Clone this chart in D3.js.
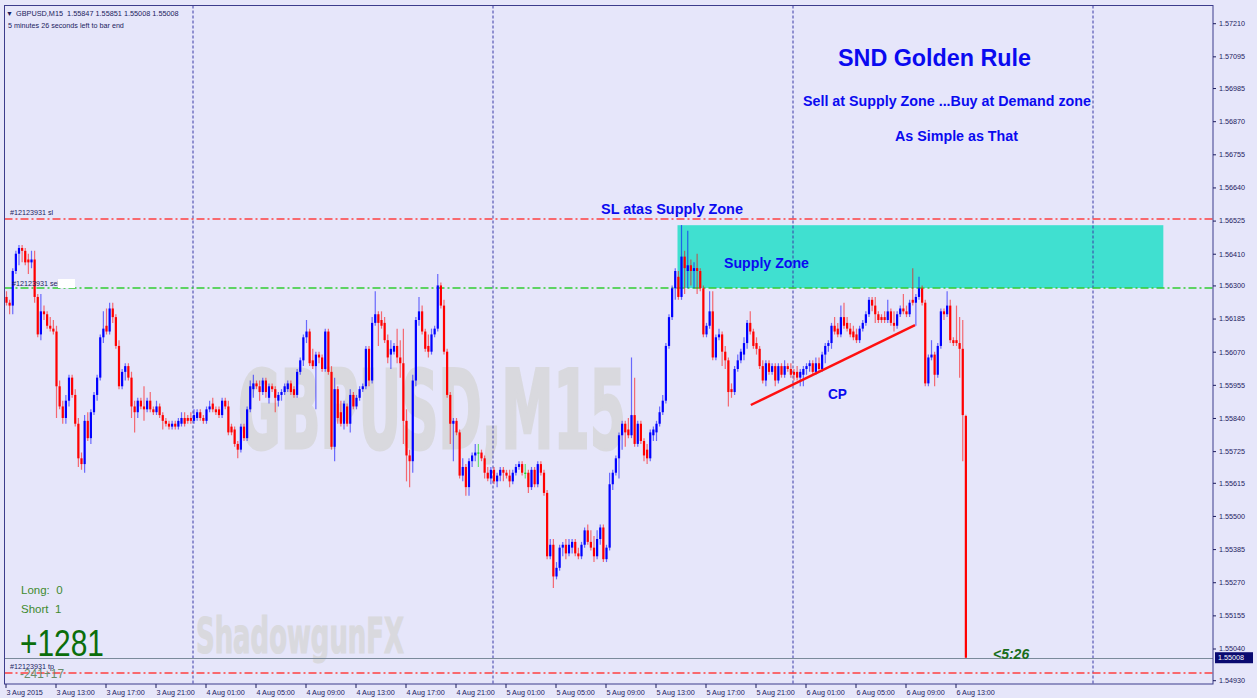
<!DOCTYPE html>
<html><head><meta charset="utf-8">
<script src="https://cdn.jsdelivr.net/npm/d3@7"></script>
<style>html,body{margin:0;padding:0;background:#e6e6fa;overflow:hidden}</style>
</head><body><svg id="c" width="1257" height="698"></svg>
<script>
// ---------------- DATA ----------------
const symbol = "GBPUSD,M15";
const firstBarTime = "2015-08-03 09:00";   // M15 bars
const barMinutes = 15;
// one [open, high, low, close] per 15-minute bar
const ohlc = [
[1.5626,1.5628,1.5623,1.5624],[1.5624,1.5625,1.5620,1.5623],[1.5623,1.5636,1.5620,1.5635],[1.5635,1.5642,1.5634,1.5641],
[1.5641,1.5644,1.5637,1.5643],[1.5643,1.5644,1.5638,1.5642],[1.5642,1.5643,1.5637,1.5638],[1.5639,1.5641,1.5634,1.5638],
[1.5638,1.5642,1.5636,1.5639],[1.5639,1.5642,1.5624,1.5626],[1.5626,1.5627,1.5612,1.5613],[1.5613,1.5627,1.5611,1.5621],
[1.5621,1.5623,1.5618,1.5620],[1.5620,1.5621,1.5615,1.5616],[1.5616,1.5619,1.5614,1.5615],[1.5615,1.5618,1.5613,1.5614],
[1.5614,1.5616,1.5584,1.5595],[1.5595,1.5597,1.5587,1.5588],[1.5588,1.5590,1.5582,1.5584],[1.5584,1.5592,1.5582,1.5590],
[1.5590,1.5599,1.5588,1.5598],[1.5598,1.5599,1.5591,1.5592],[1.5592,1.5594,1.5581,1.5582],[1.5582,1.5584,1.5567,1.5570],
[1.5570,1.5572,1.5566,1.5568],[1.5568,1.5585,1.5565,1.5583],[1.5583,1.5586,1.5576,1.5577],[1.5577,1.5587,1.5575,1.5586],
[1.5586,1.5593,1.5585,1.5592],[1.5592,1.5599,1.5590,1.5598],[1.5598,1.5613,1.5597,1.5612],[1.5612,1.5621,1.5610,1.5615],
[1.5616,1.5622,1.5613,1.5614],[1.5614,1.5624,1.5613,1.5622],[1.5622,1.5624,1.5617,1.5619],[1.5619,1.5620,1.5608,1.5609],
[1.5609,1.5611,1.5594,1.5595],[1.5595,1.5601,1.5594,1.5600],[1.5600,1.5603,1.5597,1.5602],[1.5602,1.5603,1.5597,1.5598],
[1.5598,1.5600,1.5584,1.5588],[1.5588,1.5590,1.5579,1.5586],[1.5586,1.5591,1.5584,1.5590],[1.5590,1.5591,1.5587,1.5588],
[1.5588,1.5595,1.5583,1.5587],[1.5587,1.5591,1.5586,1.5590],[1.5590,1.5593,1.5586,1.5587],[1.5587,1.5588,1.5585,1.5586],
[1.5586,1.5590,1.5585,1.5588],[1.5588,1.5589,1.5584,1.5585],[1.5585,1.5586,1.5580,1.5583],[1.5583,1.5584,1.5581,1.5582],
[1.5582,1.5583,1.5580,1.5581],[1.5581,1.5583,1.5580,1.5582],[1.5582,1.5583,1.5580,1.5581],[1.5581,1.5584,1.5580,1.5583],
[1.5582,1.5586,1.5581,1.5584],[1.5584,1.5586,1.5581,1.5582],[1.5584,1.5585,1.5582,1.5583],[1.5584,1.5586,1.5582,1.5583],
[1.5583,1.5587,1.5582,1.5585],[1.5584,1.5587,1.5583,1.5586],[1.5586,1.5587,1.5583,1.5584],[1.5584,1.5585,1.5582,1.5583],
[1.5583,1.5588,1.5582,1.5587],[1.5587,1.5590,1.5586,1.5588],[1.5589,1.5591,1.5586,1.5587],[1.5587,1.5588,1.5585,1.5586],
[1.5587,1.5588,1.5584,1.5585],[1.5585,1.5591,1.5584,1.5590],[1.5590,1.5591,1.5587,1.5588],[1.5588,1.5590,1.5578,1.5579],
[1.5581,1.5582,1.5578,1.5579],[1.5580,1.5581,1.5574,1.5575],[1.5575,1.5576,1.5570,1.5573],[1.5573,1.5582,1.5572,1.5581],
[1.5581,1.5582,1.5576,1.5577],[1.5577,1.5588,1.5576,1.5587],[1.5587,1.5597,1.5586,1.5595],[1.5594,1.5599,1.5591,1.5596],
[1.5596,1.5597,1.5594,1.5595],[1.5595,1.5597,1.5590,1.5593],[1.5593,1.5598,1.5592,1.5597],[1.5597,1.5598,1.5591,1.5593],
[1.5591,1.5596,1.5589,1.5595],[1.5595,1.5596,1.5593,1.5594],[1.5594,1.5595,1.5586,1.5591],[1.5590,1.5593,1.5588,1.5592],
[1.5592,1.5594,1.5590,1.5593],[1.5593,1.5596,1.5592,1.5595],[1.5594,1.5597,1.5593,1.5596],[1.5596,1.5597,1.5592,1.5593],
[1.5594,1.5595,1.5591,1.5592],[1.5592,1.5601,1.5591,1.5600],[1.5600,1.5605,1.5599,1.5604],[1.5604,1.5613,1.5602,1.5612],
[1.5612,1.5618,1.5610,1.5614],[1.5614,1.5615,1.5602,1.5603],[1.5604,1.5608,1.5601,1.5602],[1.5602,1.5607,1.5587,1.5606],
[1.5606,1.5607,1.5603,1.5605],[1.5605,1.5606,1.5600,1.5601],[1.5601,1.5615,1.5600,1.5614],[1.5614,1.5615,1.5599,1.5600],
[1.5600,1.5602,1.5573,1.5574],[1.5574,1.5598,1.5569,1.5594],[1.5594,1.5595,1.5582,1.5584],[1.5586,1.5590,1.5581,1.5582],
[1.5582,1.5590,1.5580,1.5589],[1.5588,1.5589,1.5581,1.5582],[1.5582,1.5594,1.5579,1.5592],[1.5592,1.5593,1.5587,1.5588],
[1.5588,1.5592,1.5587,1.5591],[1.5591,1.5595,1.5590,1.5594],[1.5594,1.5596,1.5593,1.5595],[1.5595,1.5609,1.5594,1.5608],
[1.5608,1.5609,1.5595,1.5597],[1.5597,1.5619,1.5596,1.5617],[1.5617,1.5628,1.5616,1.5620],[1.5620,1.5621,1.5609,1.5617],
[1.5618,1.5621,1.5615,1.5616],[1.5617,1.5619,1.5610,1.5611],[1.5611,1.5613,1.5603,1.5605],[1.5606,1.5611,1.5601,1.5608],
[1.5607,1.5610,1.5606,1.5609],[1.5609,1.5615,1.5603,1.5605],[1.5605,1.5611,1.5598,1.5603],[1.5603,1.5615,1.5575,1.5583],
[1.5583,1.5587,1.5562,1.5571],[1.5571,1.5573,1.5560,1.5569],[1.5569,1.5599,1.5565,1.5597],[1.5597,1.5619,1.5595,1.5618],
[1.5618,1.5626,1.5616,1.5621],[1.5621,1.5623,1.5613,1.5614],[1.5614,1.5615,1.5607,1.5608],[1.5609,1.5613,1.5605,1.5607],
[1.5607,1.5615,1.5606,1.5613],[1.5613,1.5616,1.5612,1.5615],[1.5615,1.5634,1.5614,1.5630],[1.5630,1.5631,1.5622,1.5623],
[1.5623,1.5625,1.5606,1.5607],[1.5607,1.5608,1.5591,1.5592],[1.5592,1.5593,1.5575,1.5582],[1.5582,1.5584,1.5569,1.5583],
[1.5583,1.5584,1.5578,1.5579],[1.5579,1.5580,1.5563,1.5564],[1.5564,1.5570,1.5562,1.5567],[1.5567,1.5568,1.5557,1.5560],
[1.5560,1.5570,1.5557,1.5569],[1.5569,1.5572,1.5567,1.5571],[1.5571,1.5575,1.5569,1.5572],[1.5572,1.5575,1.5567,1.5572],
[1.5572,1.5573,1.5569,1.5570],[1.5570,1.5571,1.5563,1.5565],[1.5565,1.5567,1.5562,1.5563],[1.5563,1.5567,1.5561,1.5566],
[1.5566,1.5567,1.5561,1.5562],[1.5562,1.5565,1.5560,1.5564],[1.5564,1.5567,1.5562,1.5566],[1.5566,1.5567,1.5562,1.5565],
[1.5565,1.5566,1.5563,1.5564],[1.5564,1.5566,1.5560,1.5562],[1.5562,1.5566,1.5561,1.5565],[1.5565,1.5568,1.5564,1.5567],
[1.5567,1.5569,1.5566,1.5568],[1.5568,1.5569,1.5564,1.5565],[1.5565,1.5568,1.5563,1.5565],[1.5565,1.5566,1.5558,1.5560],
[1.5560,1.5567,1.5559,1.5566],[1.5566,1.5567,1.5560,1.5561],[1.5561,1.5569,1.5560,1.5568],[1.5568,1.5569,1.5564,1.5565],
[1.5565,1.5566,1.5557,1.5558],[1.5558,1.5559,1.5535,1.5536],[1.5536,1.5542,1.5535,1.5540],[1.5540,1.5542,1.5525,1.5529],
[1.5529,1.5534,1.5528,1.5532],[1.5532,1.5540,1.5531,1.5539],[1.5539,1.5541,1.5536,1.5540],[1.5540,1.5542,1.5535,1.5537],
[1.5537,1.5542,1.5536,1.5540],[1.5539,1.5542,1.5537,1.5541],[1.5541,1.5542,1.5536,1.5537],[1.5537,1.5539,1.5535,1.5536],
[1.5536,1.5541,1.5535,1.5540],[1.5540,1.5546,1.5539,1.5545],[1.5545,1.5547,1.5540,1.5541],[1.5541,1.5545,1.5538,1.5539],
[1.5539,1.5543,1.5534,1.5536],[1.5536,1.5545,1.5535,1.5542],[1.5542,1.5547,1.5540,1.5546],[1.5546,1.5547,1.5534,1.5535],
[1.5535,1.5540,1.5534,1.5539],[1.5539,1.5565,1.5538,1.5561],[1.5561,1.5566,1.5559,1.5565],[1.5565,1.5571,1.5564,1.5570],
[1.5570,1.5579,1.5563,1.5578],[1.5578,1.5583,1.5573,1.5582],[1.5582,1.5583,1.5574,1.5579],[1.5580,1.5584,1.5577,1.5578],
[1.5578,1.5605,1.5577,1.5585],[1.5585,1.5598,1.5574,1.5575],[1.5575,1.5583,1.5574,1.5582],[1.5582,1.5583,1.5575,1.5576],
[1.5576,1.5577,1.5569,1.5571],[1.5573,1.5575,1.5568,1.5570],[1.5570,1.5580,1.5569,1.5579],[1.5578,1.5581,1.5576,1.5580],
[1.5579,1.5583,1.5576,1.5582],[1.5582,1.5588,1.5581,1.5586],[1.5586,1.5592,1.5585,1.5590],[1.5590,1.5610,1.5589,1.5609],
[1.5609,1.5620,1.5608,1.5619],[1.5619,1.5630,1.5618,1.5629],[1.5629,1.5636,1.5625,1.5635],[1.5633,1.5635,1.5625,1.5626],
[1.5626,1.5651,1.5625,1.5640],[1.5640,1.5642,1.5627,1.5636],[1.5635,1.5649,1.5629,1.5637],[1.5637,1.5639,1.5630,1.5635],
[1.5635,1.5638,1.5629,1.5636],[1.5636,1.5641,1.5627,1.5635],[1.5635,1.5636,1.5628,1.5629],[1.5629,1.5630,1.5612,1.5613],
[1.5613,1.5617,1.5612,1.5616],[1.5616,1.5628,1.5615,1.5621],[1.5621,1.5628,1.5604,1.5605],[1.5605,1.5613,1.5604,1.5612],
[1.5612,1.5615,1.5611,1.5613],[1.5613,1.5614,1.5602,1.5607],[1.5607,1.5609,1.5601,1.5604],[1.5604,1.5605,1.5588,1.5593],
[1.5594,1.5596,1.5591,1.5593],[1.5593,1.5602,1.5592,1.5601],[1.5601,1.5606,1.5600,1.5604],[1.5604,1.5608,1.5603,1.5607],
[1.5606,1.5612,1.5604,1.5610],[1.5610,1.5618,1.5608,1.5617],[1.5617,1.5621,1.5613,1.5614],[1.5614,1.5615,1.5608,1.5609],
[1.5610,1.5612,1.5606,1.5608],[1.5608,1.5609,1.5601,1.5602],[1.5602,1.5604,1.5596,1.5597],[1.5597,1.5604,1.5595,1.5603],
[1.5603,1.5604,1.5599,1.5600],[1.5600,1.5603,1.5599,1.5602],[1.5602,1.5603,1.5595,1.5597],[1.5597,1.5603,1.5596,1.5602],
[1.5602,1.5603,1.5598,1.5599],[1.5599,1.5604,1.5598,1.5602],[1.5602,1.5603,1.5600,1.5601],[1.5601,1.5603,1.5598,1.5599],
[1.5600,1.5601,1.5597,1.5599],[1.5600,1.5602,1.5597,1.5598],[1.5598,1.5601,1.5595,1.5600],[1.5599,1.5602,1.5595,1.5601],
[1.5601,1.5603,1.5599,1.5602],[1.5602,1.5604,1.5600,1.5603],[1.5603,1.5604,1.5599,1.5600],[1.5600,1.5605,1.5599,1.5603],
[1.5603,1.5605,1.5600,1.5601],[1.5601,1.5607,1.5600,1.5606],[1.5606,1.5610,1.5603,1.5609],[1.5609,1.5611,1.5607,1.5610],
[1.5610,1.5617,1.5608,1.5616],[1.5616,1.5619,1.5613,1.5614],[1.5615,1.5617,1.5612,1.5613],[1.5613,1.5623,1.5612,1.5619],
[1.5619,1.5624,1.5615,1.5616],[1.5617,1.5619,1.5614,1.5615],[1.5615,1.5617,1.5612,1.5613],[1.5614,1.5616,1.5611,1.5612],
[1.5613,1.5615,1.5610,1.5611],[1.5611,1.5616,1.5610,1.5615],[1.5615,1.5618,1.5614,1.5617],[1.5617,1.5621,1.5616,1.5620],
[1.5620,1.5626,1.5619,1.5625],[1.5625,1.5626,1.5621,1.5623],[1.5623,1.5626,1.5617,1.5620],[1.5620,1.5621,1.5617,1.5618],
[1.5619,1.5620,1.5617,1.5618],[1.5619,1.5621,1.5617,1.5618],[1.5618,1.5625,1.5617,1.5621],[1.5621,1.5622,1.5616,1.5617],
[1.5617,1.5621,1.5614,1.5616],[1.5616,1.5621,1.5615,1.5620],[1.5620,1.5623,1.5619,1.5622],[1.5622,1.5627,1.5620,1.5621],
[1.5621,1.5623,1.5619,1.5620],[1.5620,1.5625,1.5619,1.5624],[1.5625,1.5636,1.5623,1.5624],[1.5624,1.5627,1.5616,1.5626],
[1.5626,1.5633,1.5625,1.5629],[1.5629,1.5630,1.5623,1.5624],[1.5624,1.5625,1.5595,1.5596],[1.5596,1.5606,1.5595,1.5605],
[1.5605,1.5611,1.5604,1.5606],[1.5606,1.5607,1.5595,1.5599],[1.5599,1.5610,1.5598,1.5609],[1.5609,1.5622,1.5608,1.5621],
[1.5621,1.5622,1.5618,1.5620],[1.5620,1.5628,1.5619,1.5623],[1.5623,1.5625,1.5610,1.5611],[1.5611,1.5612,1.5609,1.5610],
[1.5611,1.5623,1.5609,1.5610],[1.5610,1.5619,1.5598,1.5608],[1.5608,1.5618,1.5569,1.5585],[1.55847,1.55851,1.55008,1.55008]
];
const priceTicks = [1.57210,1.57095,1.56985,1.56870,1.56755,1.56640,1.56525,1.56410,1.56300,1.56185,1.56070,
  1.55955,1.55840,1.55725,1.55615,1.55500,1.55385,1.55270,1.55155,1.55040,1.54930];
const timeTicks = ["2015-08-03 09:00","2015-08-03 13:00","2015-08-03 17:00","2015-08-03 21:00","2015-08-04 01:00",
  "2015-08-04 05:00","2015-08-04 09:00","2015-08-04 13:00","2015-08-04 17:00","2015-08-04 21:00","2015-08-05 01:00",
  "2015-08-05 05:00","2015-08-05 09:00","2015-08-05 13:00","2015-08-05 17:00","2015-08-05 21:00","2015-08-06 01:00",
  "2015-08-06 05:00","2015-08-06 09:00","2015-08-06 13:00"];
const timeTickLabels = ["3 Aug 2015","3 Aug 13:00","3 Aug 17:00","3 Aug 21:00","4 Aug 01:00","4 Aug 05:00","4 Aug 09:00",
  "4 Aug 13:00","4 Aug 17:00","4 Aug 21:00","5 Aug 01:00","5 Aug 05:00","5 Aug 09:00","5 Aug 13:00","5 Aug 17:00",
  "5 Aug 21:00","6 Aug 01:00","6 Aug 05:00","6 Aug 09:00","6 Aug 13:00"];
const daySeparators = ["2015-08-04 00:00","2015-08-05 00:00","2015-08-06 00:00","2015-08-07 00:00"];
const slPrice = 1.56530, entryPrice = 1.56291, tpPrice = 1.54955;
const orderId = "#12123931";
const supplyZone = {from:"2015-08-05 14:48", to:"2015-08-07 05:40", top:1.56509, bottom:1.56291};
const cpLine = [{t:"2015-08-05 20:40", p:1.55885},{t:"2015-08-06 09:48", p:1.56162}];
const timeLeft = "5 minutes 26 seconds left to bar end";
const countdown = "<5:26";
const stats = {long:0, short:1, profit:"+1281", pips:"-241+17"};

// ---------------- CHART ----------------
const svg = d3.select("#c");
const parse = d3.utcParse("%Y-%m-%d %H:%M");
const t0 = parse(firstBarTime), barMs = barMinutes*60000, barPx = 3.125, visibleBars = 386.5;
const L = 4.5, T = 5.5, R = 1213, B = 684;
const x = d3.scaleUtc().domain([t0, new Date(+t0 + visibleBars*barMs)]).range([5, 5 + visibleBars*barPx]);
const y = d3.scaleLinear().domain([1.54930, 1.57210]).range([680.2, 23.2]);
const barTime = i => new Date(+t0 + i*barMs);
const F = "'Liberation Sans', Arial, sans-serif";
const navy = "#1c1c5e";

svg.append("rect").attr("width",1257).attr("height",698).attr("fill","#e6e6fa");
svg.append("defs").append("clipPath").attr("id","pc").append("rect")
  .attr("x",L).attr("y",T).attr("width",R-L).attr("height",B-T);
const g = svg.append("g").attr("clip-path","url(#pc)");

// watermarks
g.append("text").attr("x",238).attr("y",448).attr("font-family","'DejaVu Sans Condensed','Liberation Sans',sans-serif")
  .attr("font-weight","bold").attr("font-size",108).attr("fill","#d9d9de")
  .attr("stroke","#d9d9de").attr("stroke-width",3)
  .attr("textLength",388).attr("lengthAdjust","spacingAndGlyphs").text(symbol);
g.append("text").attr("x",196).attr("y",653).attr("font-family","'DejaVu Sans Condensed','Liberation Sans',sans-serif")
  .attr("font-weight","bold").attr("font-size",49).attr("fill","#d9d9de")
  .attr("stroke","#d9d9de").attr("stroke-width",1.2)
  .attr("textLength",208).attr("lengthAdjust","spacingAndGlyphs").text("ShadowgunFX");

// supply zone
g.append("rect").attr("x",x(parse(supplyZone.from))).attr("y",y(supplyZone.top))
  .attr("width",x(parse(supplyZone.to))-x(parse(supplyZone.from)))
  .attr("height",y(supplyZone.bottom)-y(supplyZone.top)).attr("fill","#40e0d0");

// day separators
g.selectAll("line.sep").data(daySeparators).join("line").attr("class","sep")
  .attr("x1",d=>x(parse(d))+0.5).attr("x2",d=>x(parse(d))+0.5).attr("y1",T).attr("y2",B)
  .attr("stroke","#3a3aa6").attr("stroke-width",1).attr("stroke-dasharray","3,2");

// order lines
const hl = [{p:slPrice,c:"#ff4040"},{p:entryPrice,c:"#32cd32"},{p:tpPrice,c:"#ff4040"}];
g.selectAll("line.ord").data(hl).join("line").attr("class","ord")
  .attr("x1",L).attr("x2",R).attr("y1",d=>Math.round(y(d.p))).attr("y2",d=>Math.round(y(d.p)))
  .attr("stroke",d=>d.c).attr("stroke-width",1.5).attr("stroke-dasharray","8,3,2,3");
const last = ohlc[ohlc.length-1];
g.append("line").attr("x1",L).attr("x2",R).attr("y1",Math.round(y(last[3]))+0.5).attr("y2",Math.round(y(last[3]))+0.5)
  .attr("stroke","#7a8a9a").attr("stroke-width",1);

// candles
const col = d => d[3]>d[0] ? "#0000ff" : (d[3]<d[0] ? "#ff0000" : "#00dd00");
const cg = g.append("g");
cg.selectAll("line.wick").data(ohlc).join("line").attr("class","wick")
  .attr("x1",(d,i)=>x(barTime(i))+1.5).attr("x2",(d,i)=>x(barTime(i))+1.5)
  .attr("y1",d=>y(d[1])).attr("y2",d=>y(d[2]))
  .attr("stroke",col).attr("stroke-width",1.2).attr("stroke-opacity",0.55);
cg.selectAll("rect.body").data(ohlc).join("rect").attr("class","body")
  .attr("x",(d,i)=>x(barTime(i))+0.4).attr("width",2.2)
  .attr("y",d=>y(Math.max(d[0],d[3]))).attr("height",d=>Math.max(1,Math.abs(y(d[0])-y(d[3]))))
  .attr("fill",col);

// CP trend line
g.append("line").attr("x1",x(parse(cpLine[0].t))).attr("y1",y(cpLine[0].p))
  .attr("x2",x(parse(cpLine[1].t))).attr("y2",y(cpLine[1].p))
  .attr("stroke","#ff1010").attr("stroke-width",2.4);

// small order labels
const small = (tx,ty,s,fill) => svg.append("text").attr("x",tx).attr("y",ty).attr("font-family",F)
  .attr("font-size",7.2).attr("fill",fill||navy).text(s);
small(10,215,orderId+" sl");
small(12,286,orderId+" sel");
svg.append("rect").attr("x",58).attr("y",279).attr("width",17).attr("height",9).attr("fill","#ffffff");
small(10,669,orderId+" tp");

// header
svg.append("text").attr("x",6).attr("y",16).attr("font-family",F).attr("font-size",7).attr("fill",navy).text("\u25BC");
svg.append("text").attr("x",16).attr("y",16).attr("font-family",F).attr("font-size",7.3).attr("fill",navy)
  .attr("xml:space","preserve")
  .text(symbol+"  "+last.map(v=>v.toFixed(5)).join(" "));
small(8,28,timeLeft);

// annotations
const blue = "#0a0af0";
const bt = (tx,ty,s,fs,len) => { const t = svg.append("text").attr("x",tx).attr("y",ty)
  .attr("font-family",F).attr("font-weight","bold").attr("font-size",fs).attr("fill",blue).text(s);
  if (len) t.attr("textLength",len).attr("lengthAdjust","spacingAndGlyphs"); return t; };
bt(838,66,"SND Golden Rule",24,193);
bt(803,106,"Sell at Supply Zone ...Buy at Demand zone",14.5,288);
bt(895,141,"As Simple as That",14.5,123);
bt(601,214,"SL atas Supply Zone",14.5,142);
bt(724,268,"Supply Zone",15,85);
bt(828,399,"CP",15,19);

// stats
svg.append("text").attr("x",21).attr("y",594).attr("font-family",F).attr("font-size",11.5).attr("fill","#3f8a2f")
  .attr("xml:space","preserve").text("Long:  "+stats.long);
svg.append("text").attr("x",21).attr("y",613).attr("font-family",F).attr("font-size",11.5).attr("fill","#3f8a2f")
  .attr("xml:space","preserve").text("Short  "+stats.short);
svg.append("text").attr("x",20).attr("y",656).attr("font-family",F).attr("font-size",37).attr("fill","#0b6e0b")
  .attr("textLength",84).attr("lengthAdjust","spacingAndGlyphs").text(stats.profit);
svg.append("text").attr("x",20).attr("y",678).attr("font-family",F).attr("font-size",13).attr("fill","#6a8c6a")
  .attr("textLength",44).attr("lengthAdjust","spacingAndGlyphs").text(stats.pips);
svg.append("text").attr("x",993).attr("y",659).attr("font-family",F).attr("font-size",14).attr("font-weight","bold")
  .attr("font-style","italic").attr("fill","#1a6e1a").text(countdown);

// frame
svg.append("rect").attr("x",L).attr("y",T).attr("width",R-L).attr("height",B-T)
  .attr("fill","none").attr("stroke","#3c3c8c").attr("stroke-width",1);

// axes
const ya = svg.append("g").attr("transform",`translate(${R},0)`)
  .call(d3.axisRight(y).tickValues(priceTicks).tickFormat(d3.format(".5f")).tickSize(3).tickPadding(3));
ya.select(".domain").remove();
ya.selectAll("line").attr("stroke",navy);
ya.selectAll("text").attr("font-family",F).attr("font-size",7.2).attr("fill",navy).attr("dy","0.32em");

const xa = svg.append("g").attr("transform",`translate(0,${B})`)
  .call(d3.axisBottom(x).tickValues(timeTicks.map(parse)).tickFormat((d,i)=>timeTickLabels[i]).tickSize(4).tickPadding(2));
xa.select(".domain").remove();
xa.selectAll("line").attr("stroke",navy).attr("transform","translate(0.5,0)");
xa.selectAll("text").attr("font-family",F).attr("font-size",7.2).attr("fill",navy)
  .attr("text-anchor","start").attr("dx","1");

// current price tag
svg.append("rect").attr("x",R+2).attr("y",y(last[3])-5.5).attr("width",38).attr("height",11).attr("fill","#0a0a70");
svg.append("text").attr("x",R+5).attr("y",y(last[3])+2.6).attr("font-family",F).attr("font-size",7.2)
  .attr("fill","#ffffff").text(last[3].toFixed(5));
</script></body></html>
